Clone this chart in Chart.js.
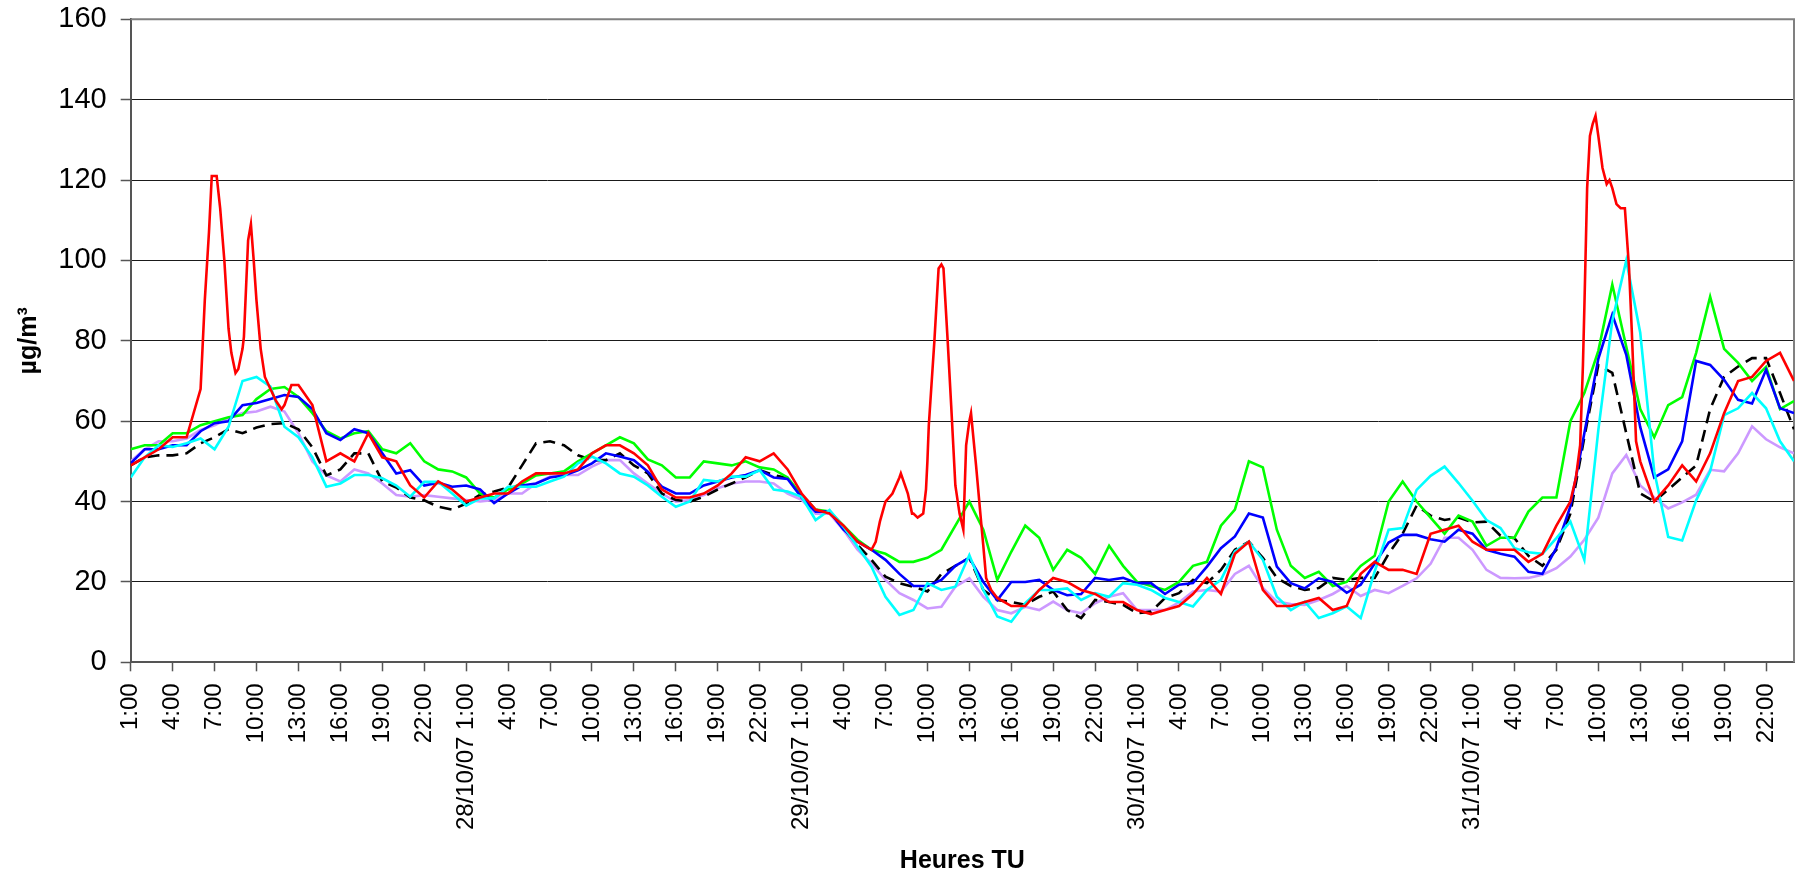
<!DOCTYPE html>
<html>
<head>
<meta charset="utf-8">
<script src="https://cdn.jsdelivr.net/npm/chart.js@4"></script>
<style>
  html, body { margin: 0; padding: 0; background: #fff; }
  #chart { display: block; }
</style>
</head>
<body>
<canvas id="chart" width="1795" height="876"></canvas>
<script>
/**** Hourly values, index 0 = 27/10/07 1:00, one value per hour ****/

const dayLabels = ["27/10/07", "28/10/07", "29/10/07", "30/10/07", "31/10/07"];

const redValues = [
  49, 51, 53, 56, 56, 68, 121, 83, 78, 90, 68, 64,
  69, 64, 50, 52, 50, 57, 51, 50, 44, 41, 45, 43,
  40, 41, 42, 42, 45, 47, 47, 47, 48, 52, 54, 54,
  52, 49, 43, 41, 41, 42, 44, 47, 51, 50, 52, 48,
  42, 38, 37, 34, 30, 28, 40, 46, 37, 50, 99, 44,
  60, 29, 16, 14, 14, 18, 21, 20, 18, 17, 15, 15,
  13, 12, 13, 14, 17, 21, 17, 27, 30, 18, 14, 14,
  15, 16, 13, 14, 22, 25, 23, 23, 22, 32, 33, 34,
  30, 28, 28, 28, 25, 27, 34, 40, 88, 131, 118, 108,
  50, 40, 44, 49, 45, 52, 62, 70, 71, 75, 77, 70
];
// red peaks move faster than one hour, extra readings in between
const redExtraHours = [
  5.3, 5.6, 5.8, 6.15, 6.4, 6.7, 7.2, 7.5, 7.7, 8.1, 8.4, 8.6, 8.8, 9.3, 9.6, 10.4, 10.8, 11.5,
  53.3, 53.6, 54.5, 55.1, 55.6, 55.9, 56.3, 56.7, 56.9, 57.1, 57.5, 57.8, 58.15, 58.45, 58.7,
  59.3, 59.57, 59.77, 60.12, 60.48, 60.84, 61.2, 61.56,
  103.4, 103.7, 103.9, 104.2, 104.4, 104.6, 104.8, 105.3, 105.6, 105.8, 106.3, 106.6, 106.9,
  107.2, 107.4, 107.7
];
const redExtraValues = [
  90, 107, 121, 121, 113, 100, 77, 72, 73, 81, 105, 109, 100, 78, 71, 65, 63, 69,
  30, 35, 42, 47, 42, 37, 36, 37, 43, 59, 80, 98, 98, 80, 64,
  37, 33, 54, 62, 49, 35, 21, 18,
  46, 54, 74, 118, 131, 134, 136, 123, 119, 120, 114, 113, 113,
  98, 82, 55
];

const greenValues = [
  53, 54, 54, 57, 57, 59, 60, 61, 61.5, 65.5, 68, 68.5,
  66, 62, 57.5, 55.7, 57, 57.5, 53, 52, 54.5, 50, 48, 47.5,
  46, 42, 41, 43, 44.5, 46.5, 47, 47.5, 50, 52, 54, 56,
  54.5, 50.5, 49, 46, 46, 50, 49.5, 49, 50, 48.5, 48, 46,
  41.5, 38, 37.5, 34, 30.5, 28, 27, 25, 25, 26, 28, 34,
  40, 33, 20.5, 27.5, 34, 31, 23, 28, 26, 22, 29, 24,
  20, 19, 18, 20, 24, 25, 34, 38, 50, 48.5, 33, 24,
  21, 22.5, 19, 20, 24, 26.5, 40, 45, 40, 36, 32, 36.5,
  35, 29, 31, 31, 37.5, 41, 41, 60, 67, 77.5, 94, 78.5,
  63, 56, 64, 66, 77, 91, 78, 74.5, 70, 73.5, 63, 65
];

const blueValues = [
  49.5, 53, 53, 54, 54, 57.5, 59.5, 60, 64, 64.5, 65.5, 66.5,
  66, 63, 57, 55.3, 58, 57, 52, 47, 47.8, 44, 44.7, 43.7,
  44, 43, 39.6, 42, 44, 44.5, 46, 46.5, 47.8, 49.5, 52, 51.2,
  50.3, 47.4, 43.7, 42, 42, 44, 45, 46, 46.6, 47.8, 46, 45.6,
  41, 37.5, 37.5, 33, 30, 28, 25.5, 22, 19, 19, 20.5, 24,
  26, 20, 15.5, 20, 20, 20.5, 18, 16.7, 17, 21, 20.5, 21,
  19.7, 19.7, 17, 19.3, 19.7, 23.8, 28.4, 31.3, 37, 36, 23.8, 19.7,
  18.4, 20.9, 20, 17.3, 19.3, 24.6, 29.8, 31.7, 31.7, 30.6, 30, 33,
  32, 28, 27, 26.3, 22.5, 22, 28.5, 38.8, 57, 75.5, 86.5, 76.5,
  58.5, 46, 48, 55, 75, 74, 70.3, 65.3, 64.4, 72.8, 63.2, 62
];

const cyanValues = [
  46, 51, 54, 53.6, 54.5, 55.7, 53, 58.6, 70, 71, 68.6, 58.6,
  56, 51, 43.7, 44.5, 46.6, 46.6, 45.8, 44, 41.2, 44.9, 44.9, 42,
  39, 40.8, 40.8, 43.7, 43.7, 43.7, 45, 46.2, 49.5, 51.2, 49.5, 47,
  46.2, 44, 41.2, 38.7, 40, 45.4, 45, 46.2, 46.2, 47.8, 43, 42.5,
  41.2, 35.4, 37.9, 33.7, 28.8, 23.8, 16.3, 11.8, 13, 19.7, 18, 18.8,
  26.7, 18, 11.4, 10.1, 14.7, 18, 18, 18.4, 15.5, 17.2, 16.3, 19.7,
  19.3, 18, 16, 15, 13.9, 18, 20.5, 27.6, 30, 25.5, 16.3, 13,
  15.1, 11, 12.2, 13.9, 11, 22.6, 33, 33.4, 42.9, 46.4, 48.7, 44.6,
  40.2, 35.4, 33.4, 28.4, 27.4, 27, 30.9, 35, 25.5, 57.8, 85, 100,
  82, 47.5, 31.2, 30.3, 40.3, 47.5, 61.5, 63.2, 67, 63.2, 55, 50
];

const blackValues = [
  49, 51, 51.5, 51.5, 52, 54.5, 56, 58, 57, 58.4, 59.3, 59.5,
  58, 53.5, 46.5, 48, 52, 52, 45, 43.5, 41, 40.3, 38.7, 38,
  39.5, 41.7, 42.5, 43.5, 49, 54.5, 55, 54, 51.5, 50.3, 50.3, 52,
  49, 47, 42, 40.4, 40, 41.2, 43, 44.5, 46, 47.8, 46.6, 45.8,
  41.2, 37.5, 37.5, 33.3, 29.2, 25.5, 21.3, 19.7, 18.8, 17.6, 22, 24,
  26, 18, 15.5, 15, 14.3, 16.3, 17.6, 13, 11, 15.5, 15, 14.3,
  12.2, 12.6, 16, 17.2, 20.5, 19.7, 23, 28, 30, 26, 21, 19,
  18, 18.5, 21, 20.5, 21, 21, 27, 32, 39, 36.5, 35.4, 36,
  34.8, 35, 31.5, 30.9, 26.5, 24, 28, 37, 56, 74, 72, 57,
  42, 40, 43, 46, 49, 63, 71, 73.6, 75.7, 75.7, 67, 58
];

const lavenderValues = [
  50, 53, 55, 55, 55.7, 57.8, 59, 60.7, 62, 62.4, 63.6, 62.4,
  57, 50, 46.5, 45, 48, 47, 44.5, 41.6, 41.2, 41.6, 41.2, 40.8,
  40.4, 40, 40.4, 42, 42, 44.5, 46.2, 46.6, 46.6, 48.7, 50.3, 50.3,
  47, 44.5, 42, 40, 40.4, 41.6, 43.3, 44.5, 45, 45, 44.5, 42,
  40.4, 37, 37, 32.9, 28, 24.6, 20.5, 17.2, 15.5, 13.4, 13.8, 18.8,
  20.9, 16.3, 13, 12.2, 13.8, 13, 15.1, 13, 12.2, 14.7, 16.3, 17.2,
  13, 13, 13, 14.9, 17.6, 18, 17.6, 22, 24, 18.5, 15.1, 14.5,
  14.3, 15.5, 17, 19, 16.5, 18, 17.2, 19, 20.9, 24.5, 31, 31,
  28, 23, 21, 20.9, 21, 21.8, 23.4, 26.3, 30.5, 36, 47, 51.6,
  44, 41, 38.3, 39.8, 41.7, 47.9, 47.5, 52, 58.7, 55.5, 53.5, 52
];

/** helpers **/
function toPoints(values) {
  return values.map(function(v, i) { return {x: i, y: v}; });
}

function mergePoints(values, extraHours, extraValues) {
  var pts = toPoints(values);
  extraHours.forEach(function(h, i) { pts.push({x: h, y: extraValues[i]}); });
  pts.sort(function(a, b) { return a.x - b.x; });
  return pts;
}

function hourLabel(value) {
  var h = Math.round(value);
  var hod = (h + 1) % 24;
  var day = Math.floor((h + 1) / 24);
  var label = hod + ":00";
  if (hod === 1 && day > 0) label = dayLabels[day] + " " + label;
  return label;
}

// top and right border of the plot area
const plotFrame = {
  id: "plotFrame",
  beforeDatasetsDraw: function(chart) {
    var a = chart.chartArea;
    var ctx = chart.ctx;
    ctx.save();
    ctx.strokeStyle = "#808080";
    ctx.lineWidth = 2;
    ctx.beginPath();
    ctx.moveTo(a.left, a.top);
    ctx.lineTo(a.right, a.top);
    ctx.lineTo(a.right, a.bottom);
    ctx.stroke();
    ctx.restore();
  }
};

Chart.defaults.font.family = "'Liberation Sans', Arial, sans-serif";
Chart.defaults.color = "#000";

function line(data, color, order, dash) {
  return {
    data: data,
    borderColor: color,
    borderWidth: 2.6,
    borderDash: dash || [],
    pointRadius: 0,
    tension: 0,
    fill: false,
    order: order
  };
}

var ctx = document.getElementById("chart");
var chart = new Chart(ctx, {
  type: "line",
  data: {
    datasets: [
      line(mergePoints(redValues, redExtraHours, redExtraValues), "#FF0000", 1),
      line(toPoints(greenValues), "#00FF00", 4),
      line(toPoints(blueValues), "#0000FF", 3),
      line(toPoints(cyanValues), "#00FFFF", 2),
      line(toPoints(blackValues), "#000000", 5, [12, 7]),
      line(toPoints(lavenderValues), "#CC99FF", 6)
    ]
  },
  options: {
    responsive: false,
    animation: false,
    devicePixelRatio: 1,
    layout: {
      padding: {top: 19.3, right: 1, bottom: 0, left: 0}
    },
    plugins: {
      legend: {display: false},
      tooltip: {enabled: false}
    },
    scales: {
      x: {
        type: "linear",
        min: 0,
        max: 119,
        afterFit: function(scale) {
          scale.height = 213.7;
          scale.paddingLeft = 0;
          scale.paddingRight = 0;
        },
        grid: {
          drawOnChartArea: false,
          drawTicks: true,
          tickLength: 9,
          tickColor: "#555",
          tickWidth: 1.5
        },
        border: {display: true, color: "#555", width: 2},
        ticks: {
          stepSize: 3,
          includeBounds: false,
          autoSkip: false,
          minRotation: 90,
          maxRotation: 90,
          padding: 12,
          color: "#000",
          font: {size: 24},
          callback: function(value) { return hourLabel(value); }
        },
        title: {
          display: true,
          text: "Heures TU",
          color: "#000",
          font: {size: 25, weight: "bold"},
          padding: {top: 0, bottom: 0}
        }
      },
      y: {
        min: 0,
        max: 160,
        afterFit: function(scale) {
          scale.width = 130.7;
          scale.paddingTop = 0;
          scale.paddingBottom = 0;
        },
        grid: {
          color: "#1a1a1a",
          lineWidth: 1,
          tickLength: 10,
          tickColor: "#555",
          tickWidth: 1.5
        },
        border: {color: "#555", width: 2},
        ticks: {
          stepSize: 20,
          padding: 14,
          color: "#000",
          font: {size: 29}
        },
        title: {
          display: true,
          text: "µg/m³",
          color: "#000",
          font: {size: 25, weight: "bold"},
          padding: {top: 14, bottom: 0}
        }
      }
    }
  },
  plugins: [plotFrame]
});
</script>
</body>
</html>
